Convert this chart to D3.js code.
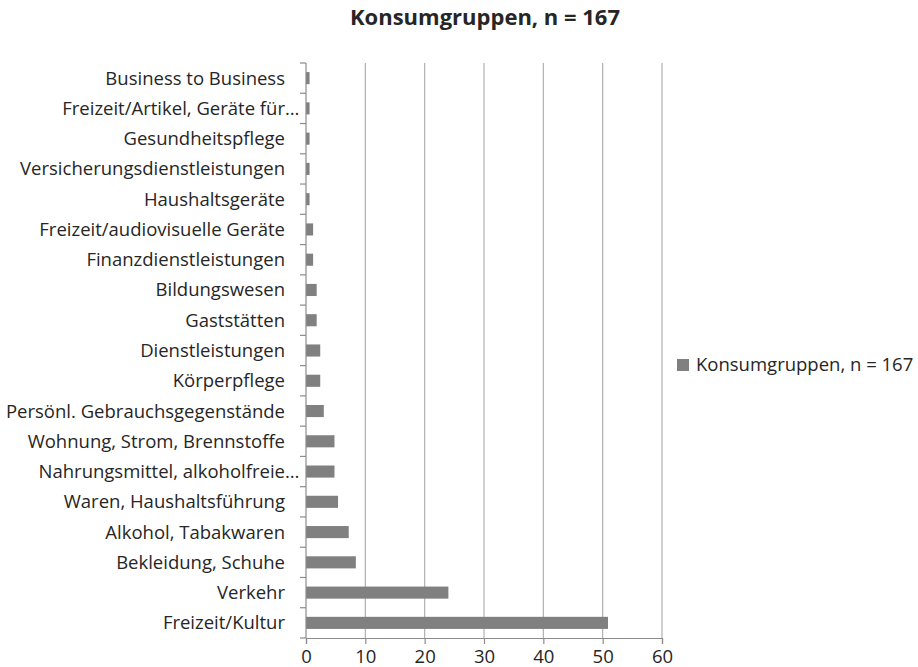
<!DOCTYPE html>
<html>
<head>
<meta charset="utf-8">
<script src="https://cdn.jsdelivr.net/npm/d3@7"></script>
<style>
  body { margin: 0; background: #fff; }
  text { font-family: "Open Sans", sans-serif; fill: #262626; }
</style>
</head>
<body>
<svg id="chart" width="918" height="667"></svg>
<script>
// top to bottom, as in the chart
const categories = [
    "Business to Business",
    "Freizeit/Artikel, Geräte für…",
    "Gesundheitspflege",
    "Versicherungsdienstleistungen",
    "Haushaltsgeräte",
    "Freizeit/audiovisuelle Geräte",
    "Finanzdienstleistungen",
    "Bildungswesen",
    "Gaststätten",
    "Dienstleistungen",
    "Körperpflege",
    "Persönl. Gebrauchsgegenstände",
    "Wohnung, Strom, Brennstoffe",
    "Nahrungsmittel, alkoholfreie…",
    "Waren, Haushaltsführung",
    "Alkohol, Tabakwaren",
    "Bekleidung, Schuhe",
    "Verkehr",
    "Freizeit/Kultur"
];
const values = [0.6, 0.6, 0.6, 0.6, 0.6, 1.2, 1.2, 1.8, 1.8, 2.4, 2.4, 3.0, 4.8, 4.8, 5.4, 7.2, 8.4, 24.0, 50.9];
const xTicks = [0, 10, 20, 30, 40, 50, 60];
const seriesName = "Konsumgruppen, n = 167";

const svg = d3.select("#chart");
const margin = { top: 63, left: 306, right: 256, bottom: 29 };
const W = 918, H = 667;
const FONT = "18.5px";

const x = d3.scaleLinear().domain([0, 60]).range([margin.left, W - margin.right]);
const y = d3.scaleBand().domain(categories).range([margin.top, H - margin.bottom]).paddingInner(0.6).paddingOuter(0.3);

// title
svg.append("text")
    .attr("x", 485).attr("y", 25)
    .attr("text-anchor", "middle")
    .style("font-size", "22px").style("font-weight", "bold")
    .text(seriesName);

// gridlines
svg.append("g")
    .selectAll("line")
    .data(xTicks.slice(1))
    .enter()
    .append("line")
    .attr("x1", d => x(d)).attr("x2", d => x(d))
    .attr("y1", margin.top).attr("y2", H - margin.bottom)
    .attr("stroke", "#b0b0b0").attr("stroke-width", 1.2);

// bars
svg.append("g")
    .selectAll("rect")
    .data(values)
    .enter()
    .append("rect")
    .attr("x", x(0))
    .attr("y", (d, i) => y(categories[i]))
    .attr("width", d => x(d) - x(0))
    .attr("height", y.bandwidth())
    .attr("fill", "#808080");

// left axis (ticks between categories)
const step = y.step();
const yAxis = svg.append("g");
yAxis.append("line")
    .attr("x1", x(0)).attr("x2", x(0))
    .attr("y1", margin.top).attr("y2", H - margin.bottom)
    .attr("stroke", "#8c8c8c").attr("stroke-width", 1.2);
yAxis.selectAll(".tk")
    .data(d3.range(categories.length + 1))
    .enter()
    .append("line")
    .attr("x1", x(0) - 6).attr("x2", x(0))
    .attr("y1", i => margin.top + i * step).attr("y2", i => margin.top + i * step)
    .attr("stroke", "#8c8c8c").attr("stroke-width", 1.2);

// category labels
const labels = yAxis.selectAll(".lbl")
    .data(categories)
    .enter()
    .append("g");
labels.append("text")
    .attr("x", 285)
    .attr("y", d => y(d) + y.bandwidth() / 2)
    .attr("dy", "0.35em")
    .attr("text-anchor", "end")
    .style("font-size", FONT)
    .text(d => d.replace("…", ""));
labels.filter(d => d.endsWith("…"))
    .append("text")
    .attr("x", 285)
    .attr("y", d => y(d) + y.bandwidth() / 2)
    .attr("dy", "0.35em")
    .style("font-size", FONT)
    .text("…");

// bottom axis
const xAxis = svg.append("g")
    .attr("transform", `translate(0, ${H - margin.bottom})`)
    .call(d3.axisBottom(x).tickValues(xTicks).tickSize(6).tickPadding(6));
xAxis.select(".domain").attr("stroke", "#8c8c8c").attr("stroke-width", 1.2);
xAxis.selectAll(".tick line").attr("stroke", "#8c8c8c").attr("stroke-width", 1.2);
xAxis.selectAll(".tick text")
    .style("font-family", "Open Sans, sans-serif")
    .style("font-size", FONT)
    .attr("fill", "#262626");

// legend
const legend = svg.append("g").attr("transform", "translate(677, 365)");
legend.append("rect")
    .attr("x", 0).attr("y", -6)
    .attr("width", 12).attr("height", 12)
    .attr("fill", "#808080");
legend.append("text")
    .attr("x", 19).attr("y", 0)
    .attr("dy", "0.35em")
    .style("font-size", FONT)
    .text(seriesName);
</script>
</body>
</html>
